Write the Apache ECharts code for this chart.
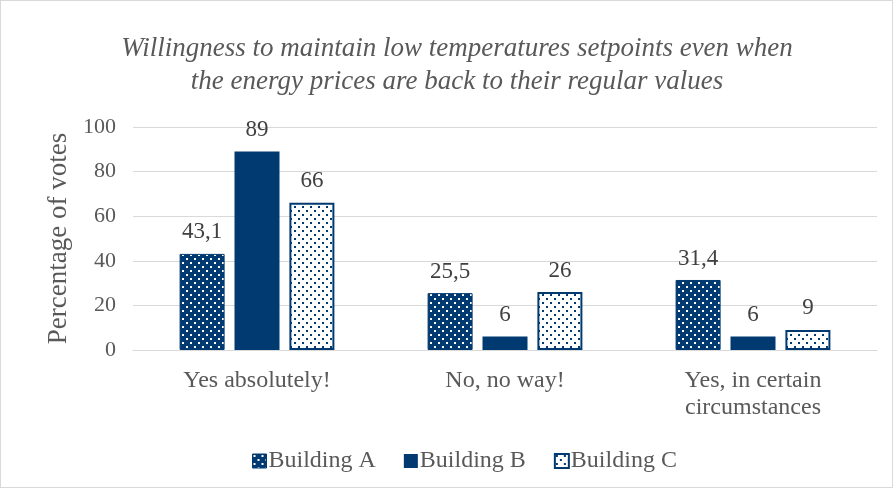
<!DOCTYPE html>
<html>
<head>
<meta charset="utf-8">
<script src="https://cdn.jsdelivr.net/npm/echarts@6/dist/echarts.min.js"></script>
<style>
  html, body { margin: 0; padding: 0; background: #fff; }
  #chart { width: 891px; height: 486px; border: 1px solid #d9d9d9; }
</style>
</head>
<body>
<div id="chart"></div>
<script>
// Survey answers and vote shares per building
const chartTitle = 'Willingness to maintain low temperatures setpoints even when\nthe energy prices are back to their regular values';
const categories = ['Yes absolutely!', 'No, no way!', 'Yes, in certain\ncircumstances'];
const buildingA = [43.1, 25.5, 31.4];
const buildingB = [89, 6, 6];
const buildingC = [66, 26, 9];
const seriesNames = ['Building A', 'Building B', 'Building C'];
const yTicks = [0, 20, 40, 60, 80, 100];

const NAVY = '#003a70';
const FONT = '"Liberation Serif", "Times New Roman", serif';

// Dotted fill tiles
function dotPattern(bg, dot) {
  const c = document.createElement('canvas');
  c.width = 8; c.height = 8;
  const g = c.getContext('2d');
  g.fillStyle = bg; g.fillRect(0, 0, 8, 8);
  g.fillStyle = dot;
  g.fillRect(1, 1, 2, 2);
  g.fillRect(5, 5, 2, 2);
  return { image: c, repeat: 'repeat' };
}
const patA = dotPattern(NAVY, '#ffffff');
const patC = dotPattern('#ffffff', NAVY);

const chart = echarts.init(document.getElementById('chart'), null, { renderer: 'canvas' });

const labelStyle = {
  show: true, position: 'top', distance: 10,
  fontFamily: FONT, fontSize: 23, color: '#404040',
  formatter: p => String(p.value).replace('.', ',')
};

chart.setOption({
  animation: false,
  graphic: [{
    type: 'text', x: 456, y: 31,
    style: {
      text: chartTitle, align: 'center', verticalAlign: 'top',
      fontFamily: FONT, fontSize: 27, fontStyle: 'italic', lineHeight: 33, fill: '#595959'
    }
  }],
  legend: {
    bottom: 9, left: 246, itemWidth: 14, itemHeight: 14, itemGap: 28,
    textStyle: { fontFamily: FONT, fontSize: 24, color: '#595959', padding: [0, 0, 0, -3] },
    data: [
      { name: seriesNames[0], icon: 'rect', itemStyle: { color: patA, borderColor: NAVY, borderWidth: 1 } },
      { name: seriesNames[1], icon: 'rect', itemStyle: { color: NAVY } },
      { name: seriesNames[2], icon: 'rect', itemStyle: { color: patC, borderColor: NAVY, borderWidth: 2 } }
    ]
  },
  grid: { left: 132, right: 15, top: 126, bottom: 137 },
  xAxis: {
    type: 'category', data: categories,
    axisLine: { lineStyle: { color: '#d9d9d9', width: 1 } },
    axisTick: { show: false },
    axisLabel: { fontFamily: FONT, fontSize: 24, color: '#595959', margin: 17, lineHeight: 27 }
  },
  yAxis: {
    type: 'value', min: 0, max: 100, interval: 20,
    name: 'Percentage of votes', nameLocation: 'middle', nameGap: 58, nameRotate: 90,
    nameTextStyle: { fontFamily: FONT, fontSize: 27, color: '#595959' },
    axisLabel: {
      fontFamily: FONT, fontSize: 22, color: '#595959', margin: 17,
      formatter: v => (yTicks.includes(v) ? String(v) : '')
    },
    axisLine: { show: false }, axisTick: { show: false },
    splitLine: { lineStyle: { color: '#d9d9d9', width: 1 } }
  },
  series: [
    { name: seriesNames[0], type: 'bar', data: buildingA, barWidth: 45, barGap: '22%',
      itemStyle: { color: patA, borderColor: NAVY, borderWidth: 1 }, label: labelStyle },
    { name: seriesNames[1], type: 'bar', data: buildingB, barWidth: 45,
      itemStyle: { color: NAVY }, label: labelStyle },
    { name: seriesNames[2], type: 'bar', data: buildingC, barWidth: 45,
      itemStyle: { color: patC, borderColor: NAVY, borderWidth: 2 }, label: labelStyle }
  ]
});
</script>
</body>
</html>
